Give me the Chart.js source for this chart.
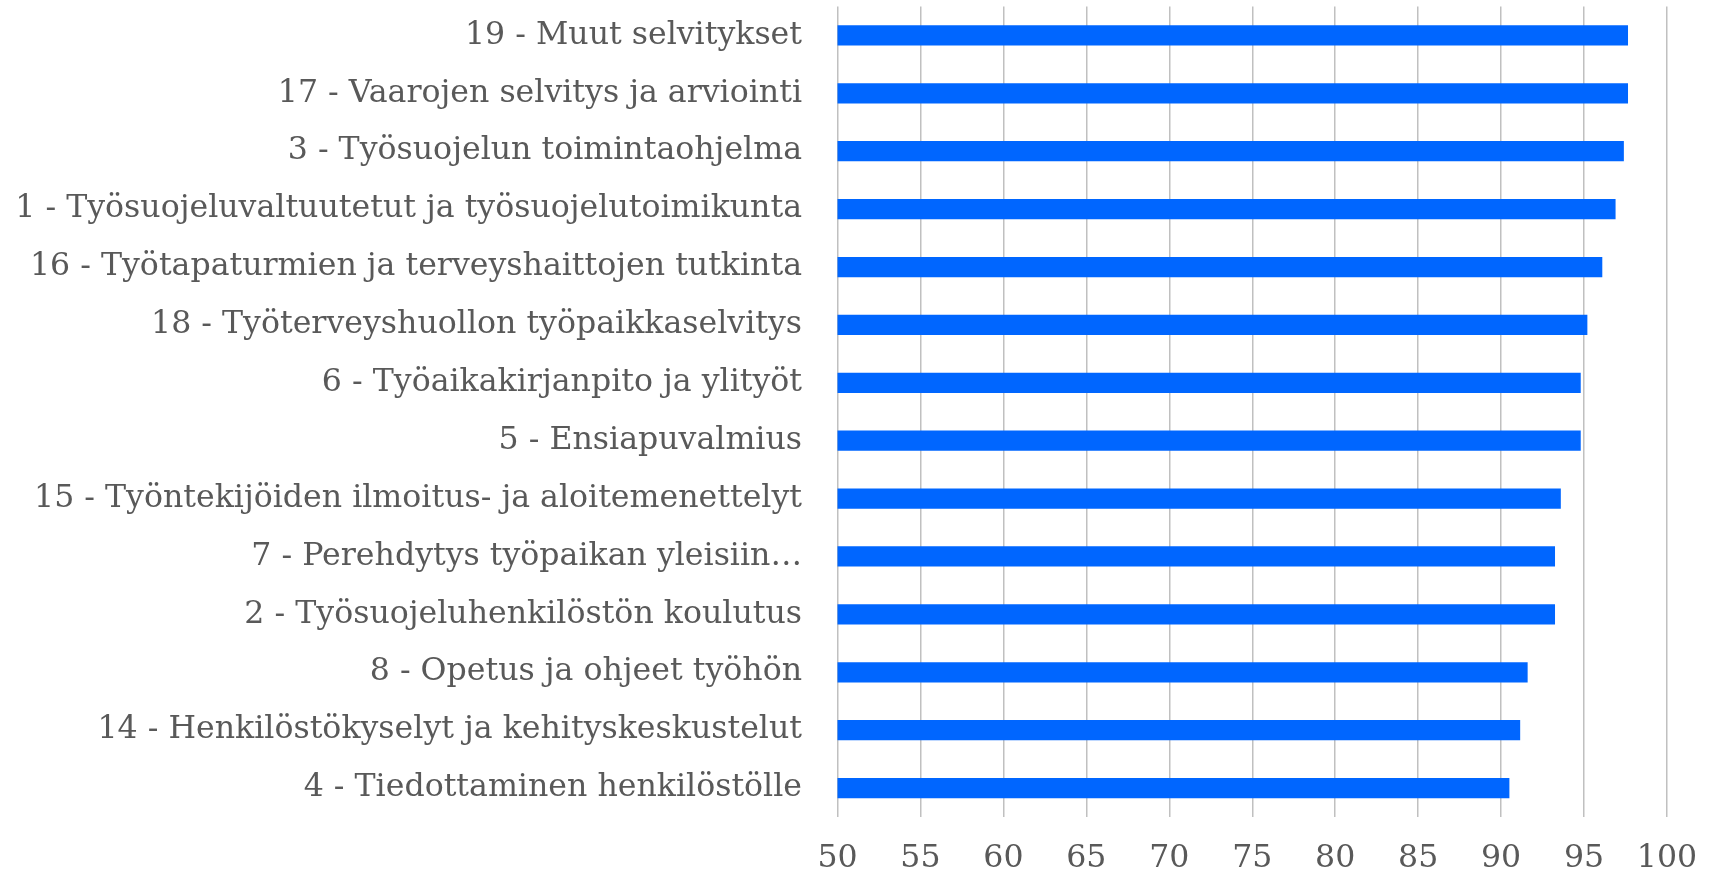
<!DOCTYPE html>
<html>
<head>
<meta charset="utf-8">
<script src="https://cdn.jsdelivr.net/npm/chart.js@4/dist/chart.umd.min.js"></script>
<style>
  html, body { margin: 0; padding: 0; background: #fff; }
  #chart { display: block; }
</style>
</head>
<body>
<canvas id="chart" width="1712" height="870"></canvas>
<script>
const chartCanvas = document.querySelector('#chart');

// categories, top to bottom
const categories = [
  '19 - Muut selvitykset',
  '17 - Vaarojen selvitys ja arviointi',
  '3 - Työsuojelun toimintaohjelma',
  '1 - Työsuojeluvaltuutetut ja työsuojelutoimikunta',
  '16 - Työtapaturmien ja terveyshaittojen tutkinta',
  '18 - Työterveyshuollon työpaikkaselvitys',
  '6 - Työaikakirjanpito ja ylityöt',
  '5 - Ensiapuvalmius',
  '15 - Työntekijöiden ilmoitus- ja aloitemenettelyt',
  '7 - Perehdytys työpaikan yleisiin…',
  '2 - Työsuojeluhenkilöstön koulutus',
  '8 - Opetus ja ohjeet työhön',
  '14 - Henkilöstökyselyt ja kehityskeskustelut',
  '4 - Tiedottaminen henkilöstölle'
];

const values = [97.65, 97.65, 97.4, 96.9, 96.1, 95.2, 94.8, 94.8, 93.6, 93.25, 93.25, 91.6, 91.15, 90.5];

const xMin = 50;
const xMax = 100;
const xStep = 5;

const textColor = '#595959';
const labelFont = { family: '"DejaVu Serif", serif', size: 31.6 };

const chart = new Chart(chartCanvas, {
  type: 'bar',
  data: {
    labels: categories,
    datasets: [{
      data: values,
      backgroundColor: '#0066ff',
      borderWidth: 0,
      barPercentage: 0.35,
      categoryPercentage: 1
    }]
  },
  options: {
    indexAxis: 'y',
    responsive: false,
    animation: false,
    layout: {
      padding: { top: 6.5, right: 45, left: 0, bottom: 0 }
    },
    plugins: {
      legend: { display: false },
      tooltip: { enabled: false }
    },
    scales: {
      x: {
        type: 'linear',
        min: xMin,
        max: xMax,
        ticks: {
          stepSize: xStep,
          color: textColor,
          font: labelFont,
          padding: 23
        },
        grid: {
          color: '#c0c0c0',
          lineWidth: 1.5,
          drawTicks: false
        },
        border: { display: false },
        afterFit(scale) {
          scale.height = 53;
          scale.paddingLeft = 0;
          scale.paddingRight = 0;
        }
      },
      y: {
        ticks: {
          color: textColor,
          font: labelFont,
          padding: 35.5,
          autoSkip: false
        },
        grid: { display: false, drawTicks: false },
        border: { display: false },
        afterFit(scale) {
          scale.width = 837.5;
          // the label padding should not push the plot down
          scale.paddingTop = 0;
          scale.paddingBottom = 0;
        }
      }
    }
  }
});
</script>
</body>
</html>
